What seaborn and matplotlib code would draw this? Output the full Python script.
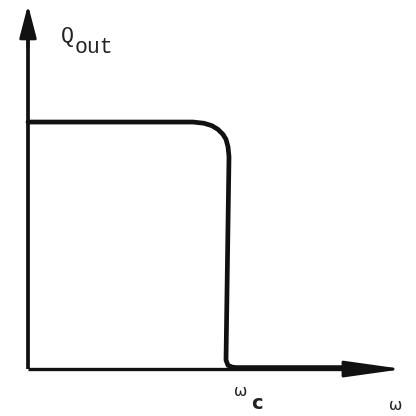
import matplotlib
matplotlib.use("Agg")
import matplotlib.pyplot as plt
import seaborn as sns
import pandas as pd

# Ideal low-pass response: output magnitude vs. angular frequency (omega_c = 1)
omega = [0.0, 0.825, 0.88, 0.92, 0.95, 0.975, 0.99, 1.0, 1.005, 0.99, 1.0, 1.02, 1.04, 1.61]
q_out = [1.0, 1.0, 0.995, 0.985, 0.97, 0.95, 0.93, 0.9, 0.86, 0.036, 0.015, 0.008, 0.006, 0.006]

# Axis extents and labels
x_axis_end = 1.875
y_axis_end = 1.474
y_label = ["Q", "out"]
cutoff_label = ["\u03c9", "c"]
x_label = "\u03c9"

sns.set_style("white")
fig = plt.figure(figsize=(4.16, 4.16), dpi=100)
ax = fig.add_axes([0, 0, 1, 1])
ax.set_xlim(-0.14, 1.94)
ax.set_ylim(-0.190, 1.494)
ax.axis("off")

df = pd.DataFrame({"omega": omega, "q": q_out})
sns.lineplot(data=df, x="omega", y="q", sort=False, estimator=None, ax=ax,
             color="#111111", linewidth=3.4, solid_capstyle="round",
             solid_joinstyle="round", zorder=3)

# Coordinate axes with filled arrowheads
ax.plot([0, 0], [0, 1.40], color="#111111", linewidth=2.7, solid_capstyle="butt")
ax.plot([0, 1.62], [0, 0], color="#111111", linewidth=2.4, solid_capstyle="butt")
ax.annotate("", xy=(0, y_axis_end), xytext=(0, 1.30),
            arrowprops=dict(arrowstyle="-|>,head_length=1.0,head_width=0.26",
                            mutation_scale=20, color="#111111", linewidth=2.2,
                            shrinkA=0, shrinkB=0))
ax.annotate("", xy=(x_axis_end, 0), xytext=(1.55, 0),
            arrowprops=dict(arrowstyle="-|>,head_length=1.0,head_width=0.14",
                            mutation_scale=36, color="#111111", linewidth=2.0,
                            shrinkA=0, shrinkB=0))

mono = dict(family="Liberation Mono", color="#222222", va="baseline", ha="left")
ax.text(0.165, 1.324, y_label[0], fontsize=15.5, **mono)
ax.text(0.235, 1.279, y_label[1], fontsize=15.5, **mono)

sans = dict(family="DejaVu Sans", color="#222222", va="baseline", ha="left")
ax.text(1.03, -0.110, cutoff_label[0], fontsize=11.5, **sans)
ax.text(1.115, -0.162, cutoff_label[1], fontsize=14, fontweight="bold", **sans)
ax.text(1.805, -0.166, x_label, fontsize=11.5, **sans)

fig.savefig("out.png", dpi=100, facecolor="white")
